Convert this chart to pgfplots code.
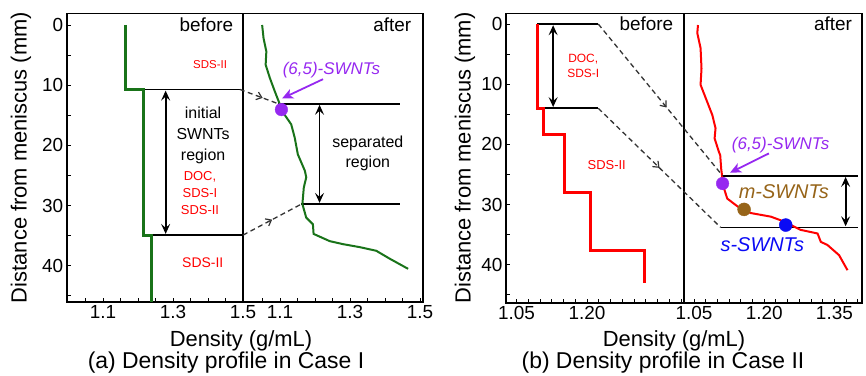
\documentclass[border=0pt]{standalone}
\usepackage{fontspec}
\setmainfont{Liberation Sans}
\usepackage{pgfplots}
\pgfplotsset{compat=1.18}
\usetikzlibrary{arrows.meta,decorations.markings}

\definecolor{dgreen}{RGB}{25,115,25}
\definecolor{vio}{RGB}{150,40,240}
\definecolor{brn}{RGB}{150,100,25}
\definecolor{blu}{RGB}{10,10,245}

\pgfplotsset{
  base/.style={
    scale only axis, anchor=north west, clip=false, y dir=reverse,
    axis line style={line width=1.6bp},
    tick align=inside, tick pos=left,
    major tick length=4bp, minor tick length=4bp,
    every tick/.style={black, line width=0.9bp},
    tick label style={font=\fontsize{19}{21}\selectfont},
  },
  outer/.style={ytick={0,10,20,30,40}, yticklabels={0,10,20,30,40}, minor ytick={5,15,25,35,45}},
  inner/.style={ytick=\empty},
}
\tikzset{
  blk/.style={line width=1.8bp},
  dbl/.style={line width=1.8bp, {Stealth[length=10bp,width=9bp,inset=4bp]}-{Stealth[length=10bp,width=9bp,inset=4bp]}},
  parr/.style={vio, line width=1.8bp, -{Stealth[length=11bp,width=10bp,inset=3bp]}},
  darr/.style={dashed, dash pattern=on 5bp off 3.5bp, line width=1.3bp, black!80,
     postaction={decorate}, decoration={markings, mark=at position #1 with {\arrow[solid,line width=1.2bp]{Straight Barb[length=5bp,width=8bp]}}}},
}

\begin{document}
\begin{tikzpicture}
\useasboundingbox (0,0) rectangle (866bp,-376bp);

% ---------------- Panel (a) before ----------------
\begin{axis}[base, outer, at={(66.7bp,-13.3bp)}, width=176.3bp, height=288.4bp,
  xmin=0.9963, xmax=1.5, ymin=-1.94, ymax=45.96,
  xtick={1.1,1.3,1.5}, xticklabels={1.1,1.3,1.5},
  minor xtick={1.05,1.15,1.2,1.25,1.35,1.4,1.45}]
\draw[blk] (axis cs:1.163,10.7) -- (axis cs:1.491,10.7);
\draw[blk] (axis cs:1.215,34.9) -- (axis cs:1.5,34.9);
\draw[dbl] (axis cs:1.279,10.9) -- (axis cs:1.279,34.7);
\addplot[dgreen, line width=3bp] coordinates {(1.163,0) (1.163,10.7) (1.215,10.7) (1.215,34.9) (1.239,34.9) (1.239,45.96)};
\node[anchor=base east, font=\fontsize{19}{21}\selectfont] at (axis cs:1.482,1.1) {before};
\node[text=red, font=\fontsize{11.5}{13}\selectfont] at (axis cs:1.406,6.6) {SDS-II};
\node[align=center, font=\fontsize{16}{21}\selectfont] at (axis cs:1.386,18.4) {initial\\SWNTs\\region};
\node[align=center, text=red, font=\fontsize{13}{16.7}\selectfont] at (axis cs:1.377,27.9) {DOC,\\SDS-I\\SDS-II};
\node[text=red, font=\fontsize{14}{16}\selectfont] at (axis cs:1.385,39.5) {SDS-II};
\coordinate (a1) at (axis cs:1.491,10.7);
\coordinate (a2) at (axis cs:1.5,34.9);
\end{axis}

% ---------------- Panel (a) after ----------------
\begin{axis}[base, inner, at={(243bp,-13.3bp)}, width=180bp, height=288.4bp,
  xmin=0.9943, xmax=1.5086, ymin=-1.94, ymax=45.96,
  xtick={1.1,1.3,1.5}, xticklabels={1.1,1.3,1.5},
  minor xtick={1.05,1.15,1.2,1.25,1.35,1.4,1.45}]
\draw[blk] (axis cs:1.094,13.06) -- (axis cs:1.442,13.06);
\draw[blk] (axis cs:1.161,29.75) -- (axis cs:1.442,29.75);
\draw[dbl] (axis cs:1.213,13.26) -- (axis cs:1.213,29.55);
\addplot[dgreen, line width=2bp] coordinates {
 (1.049,0) (1.053,2.2) (1.061,4.4) (1.059,6.6) (1.071,8.8) (1.085,11.0) (1.097,12.8)
 (1.113,14.9) (1.132,16.5) (1.142,18.7) (1.151,21.5) (1.171,24.2) (1.175,25.3)
 (1.168,27.0) (1.164,29.75) (1.175,32.0) (1.194,33.1) (1.196,34.7) (1.242,35.9)
 (1.280,36.4) (1.328,36.9) (1.375,37.5) (1.413,38.8) (1.466,40.5)};
\draw[parr] (axis cs:1.223,9.0) -- (axis cs:1.106,12.2);
\addplot[only marks, mark=*, mark size=6.3bp, vio] coordinates {(1.104,14.05)};
\node[anchor=base east, font=\fontsize{19}{21}\selectfont] at (axis cs:1.485,1.1) {after};
\node[text=vio, font=\fontsize{17}{19}\selectfont\itshape] at (axis cs:1.247,7.5) {(6,5)-SWNTs};
\node[align=center, font=\fontsize{16}{20}\selectfont] at (axis cs:1.351,21.3) {separated\\region};
\coordinate (a3) at (axis cs:1.094,13.06);
\coordinate (a4) at (axis cs:1.161,29.75);
\end{axis}

\draw[darr=0.6] (a1) -- (a3);
\draw[darr=0.5] (a2) -- (a4);

% ---------------- Panel (b) before ----------------
\begin{axis}[base, outer, at={(506bp,-13.3bp)}, width=178bp, height=289.7bp,
  xmin=1.0277, xmax=1.4064, ymin=-1.78, ymax=46.35,
  xtick={1.05,1.20}, xticklabels={1.05,1.20},
  minor xtick={1.075,1.1,1.125,1.15,1.175,1.225,1.25,1.275,1.3,1.325,1.35,1.375,1.4}]
\draw[blk] (axis cs:1.094,0) -- (axis cs:1.224,0);
\draw[blk] (axis cs:1.094,14.0) -- (axis cs:1.224,14.0);
\draw[dbl] (axis cs:1.128,0.2) -- (axis cs:1.128,13.8);
\addplot[red, line width=3.3bp] coordinates {(1.094,0) (1.094,14.0) (1.107,14.0) (1.107,18.4) (1.152,18.4) (1.152,28.0) (1.208,28.0) (1.208,37.6) (1.322,37.6) (1.322,43.0)};
\node[anchor=base east, font=\fontsize{19}{21}\selectfont] at (axis cs:1.391,1.1) {before};
\node[align=center, text=red, font=\fontsize{12}{15}\selectfont] at (axis cs:1.192,7.0) {DOC,\\SDS-I};
\node[text=red, font=\fontsize{13}{15}\selectfont] at (axis cs:1.242,23.4) {SDS-II};
\coordinate (b1) at (axis cs:1.224,0);
\coordinate (b2) at (axis cs:1.224,14.0);
\end{axis}

% ---------------- Panel (b) after ----------------
\begin{axis}[base, inner, at={(684bp,-13.3bp)}, width=178bp, height=289.7bp,
  xmin=1.0286, xmax=1.409, ymin=-1.78, ymax=46.35,
  xtick={1.05,1.20,1.35}, xticklabels={1.05,1.20,1.35},
  minor xtick={1.075,1.1,1.125,1.15,1.175,1.225,1.25,1.275,1.3,1.325,1.375,1.4}]
\draw[blk] (axis cs:1.111,25.2) -- (axis cs:1.40,25.2);
\draw[blk] (axis cs:1.107,33.8) -- (axis cs:1.40,33.8);
\draw[dbl] (axis cs:1.374,25.4) -- (axis cs:1.374,33.6);
\addplot[red, line width=2bp] coordinates {
 (1.0585,0.17) (1.057,1.5) (1.064,4.0) (1.066,7.4) (1.064,10.1) (1.075,12.3) (1.089,15.1)
 (1.096,17.3) (1.094,19.0) (1.103,21.2) (1.106,21.8) (1.108,24.0) (1.111,25.9) (1.114,27.3)
 (1.121,29.0) (1.143,30.3) (1.171,31.4) (1.214,32.0) (1.242,32.8) (1.278,34.2) (1.314,34.8)
 (1.321,36.2) (1.335,36.7) (1.360,38.4) (1.378,40.9)};
\draw[parr] (axis cs:1.210,21.5) -- (axis cs:1.127,24.7);
\addplot[only marks, mark=*, mark size=6.3bp, vio] coordinates {(1.111,26.5)};
\addplot[only marks, mark=*, mark size=6.5bp, brn] coordinates {(1.157,30.8)};
\addplot[only marks, mark=*, mark size=6.5bp, blu] coordinates {(1.246,33.4)};
\node[anchor=base east, font=\fontsize{19}{21}\selectfont] at (axis cs:1.395,1.1) {after};
\node[text=vio, font=\fontsize{17}{19}\selectfont\itshape] at (axis cs:1.235,20.1) {(6,5)-SWNTs};
\node[text=brn, font=\fontsize{20}{22}\selectfont\itshape] at (axis cs:1.242,27.9) {m-SWNTs};
\node[text=blu, font=\fontsize{20}{22}\selectfont\itshape] at (axis cs:1.196,36.7) {s-SWNTs};
\coordinate (b3) at (axis cs:1.111,25.2);
\coordinate (b4) at (axis cs:1.107,33.8);
\end{axis}

\draw[darr=0.55] (b1) -- (b3);
\draw[darr=0.5] (b2) -- (b4);

% ---------------- labels ----------------
\node[rotate=90, font=\fontsize{22}{24}\selectfont] at (21bp,-157.5bp) {Distance from meniscus (mm)};
\node[rotate=90, font=\fontsize{22}{24}\selectfont] at (465bp,-158bp) {Distance from meniscus (mm)};
\node[anchor=base, inner sep=0pt, font=\fontsize{22}{24}\selectfont] at (241bp,-346.2bp) {Density (g/mL)};
\node[anchor=base, inner sep=0pt, font=\fontsize{22}{24}\selectfont] at (674bp,-346.2bp) {Density (g/mL)};
\node[anchor=base, inner sep=0pt, font=\fontsize{23}{25}\selectfont] at (226bp,-368bp) {(a) Density profile in Case I};
\node[anchor=base, inner sep=0pt, font=\fontsize{23}{25}\selectfont] at (663bp,-368bp) {(b) Density profile in Case II};
\end{tikzpicture}
\end{document}
